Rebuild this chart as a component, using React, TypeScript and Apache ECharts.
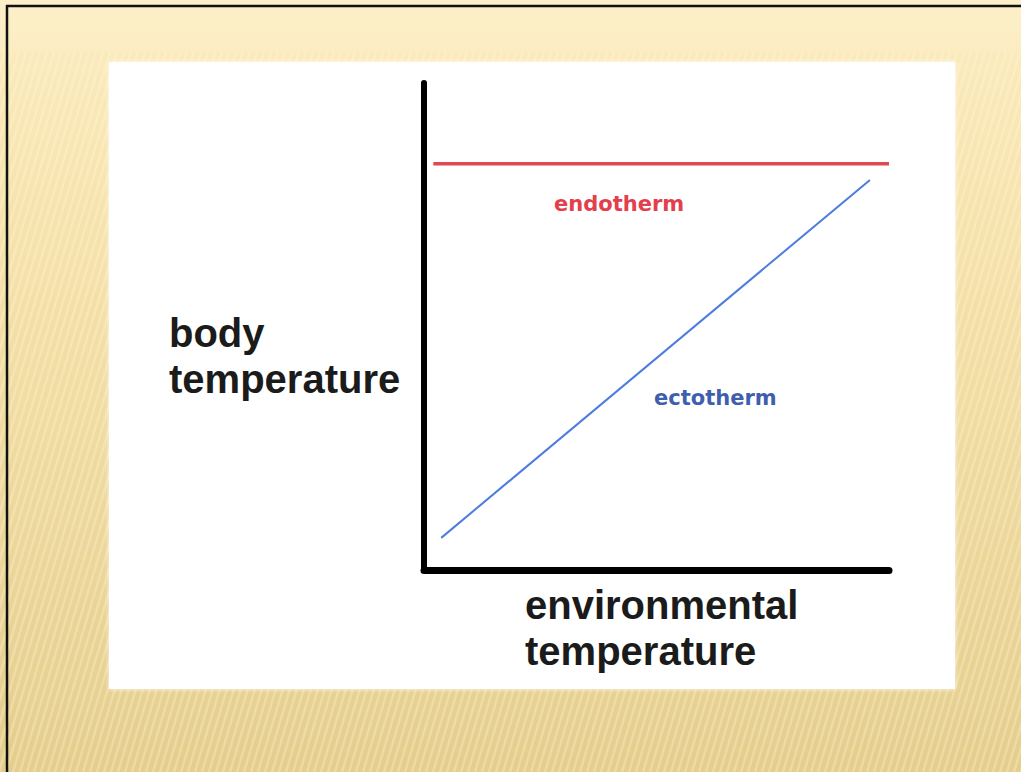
import React, { useEffect, useRef } from "react";
import * as echarts from "echarts";

// Data (axis units 0–100, unitless schematic)
const endothermX = [2, 100];
const endothermY = [83.4, 83.4];
const ectothermX = [3.7, 95.9];
const ectothermY = [6.6, 80.1];

const yAxisLabel = ["body", "temperature"];
const xAxisLabel = ["environmental", "temperature"];
const seriesNames = ["endotherm", "ectotherm"];

const W = 1021;
const H = 772;

function buildStripes() {
  const els: any[] = [];
  const top = 52;
  const slope = 0.3;
  for (let x = -260; x < W + 10; x += 7) {
    els.push({
      type: "line",
      shape: { x1: x, y1: H, x2: x + slope * (H - top), y2: top },
      style: { stroke: "rgba(255,250,232,0.28)", lineWidth: 2.5 },
      silent: true,
    });
  }
  return els;
}

export default function App() {
  const ref = useRef<HTMLDivElement>(null);

  useEffect(() => {
    if (!ref.current) return;
    const chart = echarts.init(ref.current, null, { renderer: "svg" });

    const pairs = (xs: number[], ys: number[]) => xs.map((x, i) => [x, ys[i]]);

    const bigFont = {
      fontFamily: "Liberation Sans, Arial, sans-serif",
      fontWeight: "bold",
      fontSize: 40,
      lineHeight: 40,
      fill: "#1b1b1b",
      verticalAlign: "middle",
      textVerticalAlign: "middle",
      textAlign: "left",
    };
    const smallFont = {
      fontFamily: "DejaVu Sans, sans-serif",
      fontWeight: "bold",
      fontSize: 21,
      verticalAlign: "middle",
      textVerticalAlign: "middle",
      textAlign: "left",
    };

    chart.setOption({
      animation: false,
      backgroundColor: "transparent",
      grid: { left: 424, right: 132, top: 83, bottom: 202, containLabel: false },
      xAxis: {
        type: "value",
        min: 0,
        max: 100,
        axisLine: { show: true, onZero: false, lineStyle: { color: "#000", width: 7 } },
        axisTick: { show: false },
        axisLabel: { show: false },
        splitLine: { show: false },
      },
      yAxis: {
        type: "value",
        min: 0,
        max: 100,
        axisLine: { show: true, onZero: false, lineStyle: { color: "#000", width: 6 } },
        axisTick: { show: false },
        axisLabel: { show: false },
        splitLine: { show: false },
      },
      series: [
        {
          name: seriesNames[0],
          type: "line",
          data: pairs(endothermX, endothermY),
          showSymbol: false,
          clip: false,
          lineStyle: { color: "#dc4a52", width: 3.5 },
          z: 3,
        },
        {
          name: seriesNames[1],
          type: "line",
          data: pairs(ectothermX, ectothermY),
          showSymbol: false,
          clip: false,
          lineStyle: { color: "#4d7be0", width: 2 },
          z: 3,
        },
      ],
      graphic: [
        {
          type: "group",
          z: -20,
          silent: true,
          children: [
            {
              type: "rect",
              shape: { x: 0, y: 0, width: W, height: H },
              style: {
                fill: new echarts.graphic.LinearGradient(0, 0, 0, 1, [
                  { offset: 0, color: "#fcecbf" },
                  { offset: 0.3, color: "#f6e2ab" },
                  { offset: 1, color: "#e5ce8c" },
                ]),
              },
            },
            ...buildStripes(),
            {
              type: "rect",
              shape: { x: 0, y: 0, width: W, height: 52 },
              style: {
                fill: new echarts.graphic.LinearGradient(0, 0, 0, 1, [
                  { offset: 0, color: "#fdf0c9" },
                  { offset: 1, color: "#fbecc2" },
                ]),
              },
            },
            {
              type: "rect",
              shape: { x: 109, y: 62, width: 846, height: 627 },
              style: { fill: "#ffffff", shadowBlur: 4, shadowColor: "rgba(255,255,255,0.9)" },
            },
            {
              type: "line",
              shape: { x1: 6, y1: 6, x2: W, y2: 6 },
              style: { stroke: "#111", lineWidth: 2.5 },
            },
            {
              type: "line",
              shape: { x1: 7, y1: 5, x2: 7, y2: H },
              style: { stroke: "#111", lineWidth: 2.5 },
            },
          ],
        },
        {
          type: "text",
          z: 50,
          style: { ...bigFont, text: yAxisLabel[0], x: 169, y: 333 },
        },
        {
          type: "text",
          z: 50,
          style: { ...bigFont, text: yAxisLabel[1], x: 169, y: 379 },
        },
        {
          type: "text",
          z: 50,
          style: { ...bigFont, text: xAxisLabel[0], x: 525, y: 605 },
        },
        {
          type: "text",
          z: 50,
          style: { ...bigFont, text: xAxisLabel[1], x: 525, y: 651 },
        },
        {
          type: "text",
          z: 50,
          style: { ...smallFont, text: seriesNames[0], x: 554, y: 204, fill: "#e2404c" },
        },
        {
          type: "text",
          z: 50,
          style: { ...smallFont, text: seriesNames[1], x: 654, y: 398, fill: "#3f5fae" },
        },
      ],
    });

    return () => chart.dispose();
  }, []);

  return (
    <div
      ref={ref}
      style={{ position: "absolute", left: 0, top: 0, width: W, height: H }}
    />
  );
}
